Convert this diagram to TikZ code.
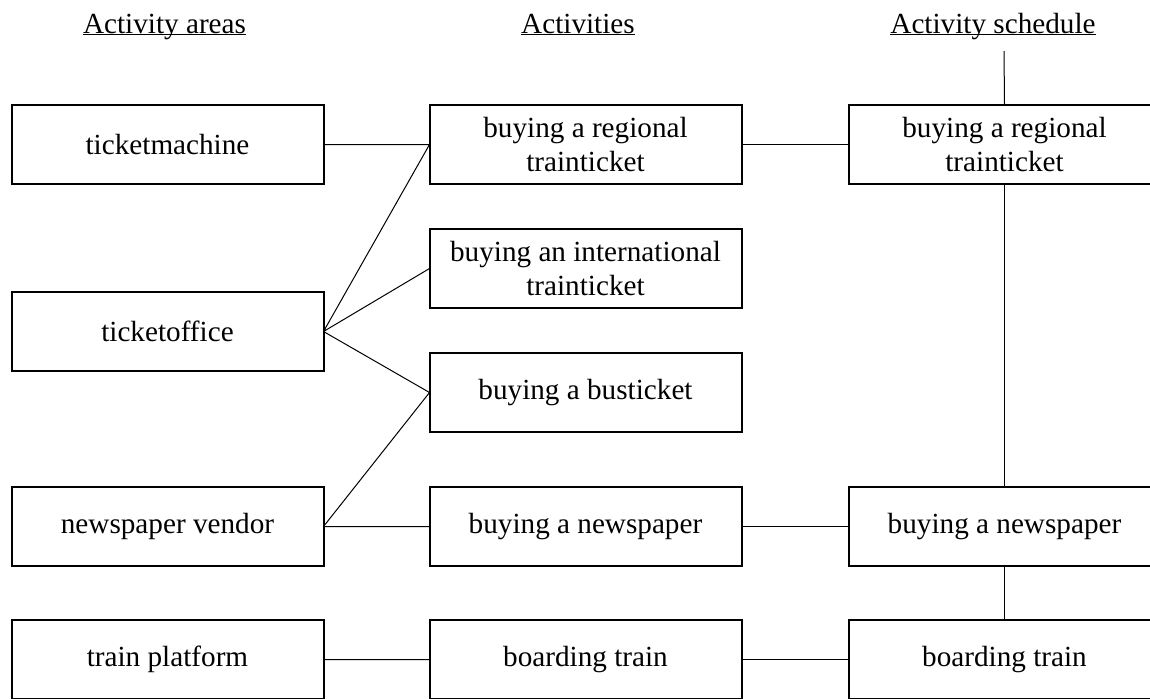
\documentclass[tikz,border=0pt]{standalone}
\usepackage{fontspec}
\setmainfont{Liberation Serif}
\usetikzlibrary{positioning}
\newcommand{\hdr}[1]{\setbox0\hbox{#1}\rlap{\rule[-1.2pt]{\wd0}{0.6pt}}\box0}

\tikzset{
  box/.style={draw, line width=1pt, minimum width=156pt, minimum height=39.5pt,
    inner sep=0pt, outer sep=0pt, align=center},
  link/.style={line width=0.5pt},
  colhead/.style={anchor=base}
}

\begin{document}
\begin{tikzpicture}[x=0.5pt,y=-0.5pt,font=\fontsize{14.6}{16.75}\selectfont]
  \useasboundingbox (0,0) rectangle (1150,698);
  \clip (0,0) rectangle (1150,698);
  % column headings
  \node[colhead] (HA) at (164.5,33) {\hdr{Activity areas}};
  \node[colhead] (HB) at (578,33) {\hdr{Activities}};
  \node[colhead] (HC) at (993,33) {\hdr{Activity schedule}};
  % activity areas
  \node[box] (TM) at (167.5,144.5) {ticketmachine};
  \node[box] (TO) [below=54pt of TM] {ticketoffice};
  \node[box] (NV) [below=58pt of TO] {newspaper vendor};
  \node[box] (TP) [below=27pt of NV] {train platform};
  % activities
  \node[box] (RT) [right=53pt of TM] {buying a regional\\trainticket};
  \node[box] (IT) [below=22.5pt of RT] {buying an international\\trainticket};
  \node[box] (BT) [below=22.5pt of IT] {buying a busticket};
  \node[box] (BN) [right=53pt of NV] {buying a newspaper};
  \node[box] (BB) [right=53pt of TP] {boarding train};
  % activity schedule
  \node[box] (SR) [right=53.5pt of RT] {buying a regional\\trainticket};
  \node[box] (SN) [right=53.5pt of BN] {buying a newspaper};
  \node[box] (SB) [right=53.5pt of BB] {boarding train};
  \coordinate (S0) at (1004,51);
  \draw[link]
  (TM.east) -- (RT.west)
  (TO.east) -- (RT.west)
  (TO.east) -- (IT.west)
  (TO.east) -- (BT.west)
  (NV.east) -- (BT.west)
  (NV.east) -- (BN.west)
  (TP.east) -- (BB.west);
  \draw[link]
  (RT.east) -- (SR.west)
  (BN.east) -- (SN.west)
  (BB.east) -- (SB.west);
  \draw[link] (S0) -- (SR.north);
  \draw[link] (SR.south) -- (SN.north);
  \draw[link] (SN.south) -- (SB.north);
\end{tikzpicture}
\end{document}
